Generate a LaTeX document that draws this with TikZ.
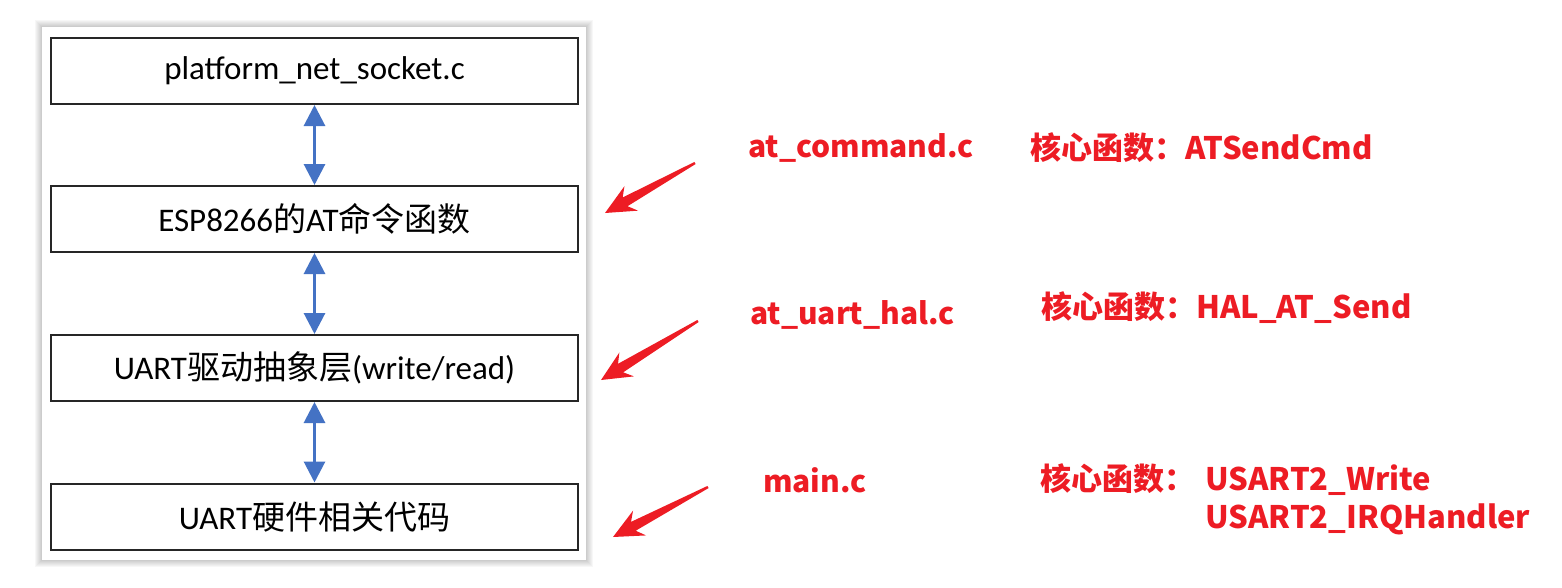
\documentclass[tikz,border=0pt]{standalone}
\usepackage{fontspec}
\setmainfont{Carlito}
\newfontfamily\cjk{Noto Sans CJK SC}
\usetikzlibrary{arrows.meta,calc}
\definecolor{ptrred}{RGB}{237,28,36}
\definecolor{linkblue}{RGB}{68,114,196}
% tapered red pointer: #1 tail, #2 tip
\newcommand\redpointer[2]{%
  \fill[ptrred] (#2) -- ($(#2)!30pt!(#1)!14pt!90:(#1)$) -- ($(#2)!23pt!(#1)!5pt!90:(#1)$)
    -- ($(#1)!1.2pt!-90:(#2)$) -- ($(#1)!1.2pt!90:(#2)$)
    -- ($(#2)!23pt!(#1)!5pt!-90:(#1)$) -- ($(#2)!30pt!(#1)!14pt!-90:(#1)$) -- cycle;}

\begin{document}
\begin{tikzpicture}[x=1pt, y=-1pt,
  layer/.style={draw=black!85, line width=2pt, minimum width=527pt, minimum height=66pt, inner sep=0pt,
    font=\fontsize{33}{38}\selectfont},
  biarrow/.style={linkblue, line width=3pt, {Triangle[width=21pt,length=21pt]}-{Triangle[width=21pt,length=21pt]}},
  note/.style={anchor=west, text=ptrred, font=\fontsize{30}{38}\selectfont\cjk\bfseries, inner sep=0pt},
  corefn/.style={note, font=\fontsize{31}{38}\selectfont\cjk\bfseries}]
\useasboundingbox (0,0) rectangle (1562,587);
% Panel with soft shadow
\foreach \d in {1,...,7}
  \fill[black, opacity=0.03] (42-\d,27-\d) rectangle (586+\d,560+\d);
\fill[white] (42,27) rectangle (586,560);
% Layers
\node[layer] (sock) at (314.5,71) {platform\_net\_socket.c};
\node[layer] (atcmd) at (314.5,219) {ESP8266{\cjk 的}AT{\cjk 命令函数}};
\node[layer] (hal) at (314.5,368) {UART{\cjk 驱动抽象层}(write/read)};
\node[layer] (hw) at (314.5,516.5) {UART{\cjk 硬件相关代码}};
\draw[biarrow] (sock) -- (atcmd);
\draw[biarrow] (atcmd) -- (hal);
\draw[biarrow] (hal) -- (hw);
% Pointers
\coordinate (t1) at (695,163); \coordinate (h1) at (605,213);
\coordinate (t2) at (698,321); \coordinate (h2) at (601,380);
\coordinate (t3) at (708,487); \coordinate (h3) at (613,537);
\redpointer{t1}{h1}
\redpointer{t2}{h2}
\redpointer{t3}{h3}
% Source files and core functions
\node[note] (f1) at (748,148) {at\_command.c};
\node[corefn] (c1) at (1030,148) {核心函数：ATSendCmd};
\node[note] (f2) at (750,315) {at\_uart\_hal.c};
\node[corefn] (c2) at (1041,308) {核心函数：HAL\_AT\_Send};
\node[note] (f3) at (763,480) {main.c};
\node[corefn] (c3) at (1040,502) {\begin{tabular}{@{}l@{\hspace{10pt}}l@{}}核心函数：&USART2\_Write\\ &USART2\_IRQHandler\end{tabular}};
\end{tikzpicture}
\end{document}
